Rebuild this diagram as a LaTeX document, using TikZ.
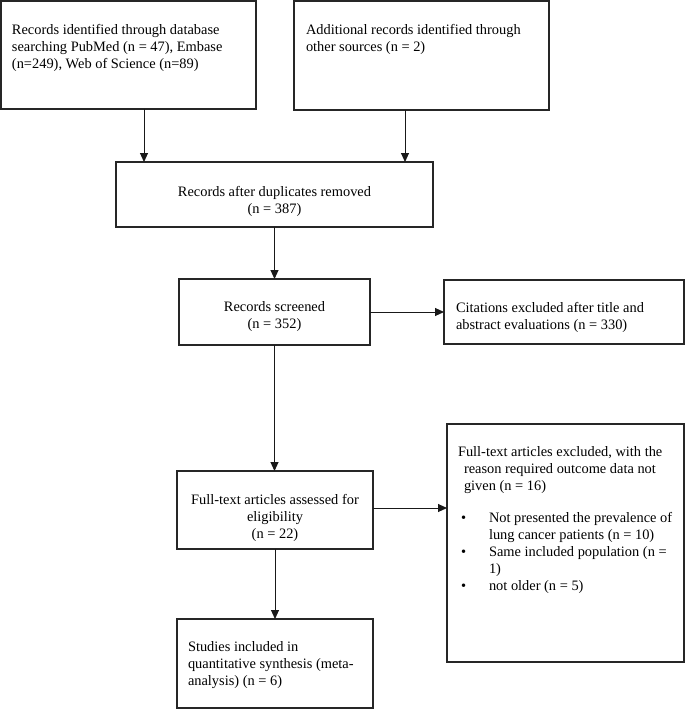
\documentclass[tikz,border=0pt]{standalone}
\usepackage{fontspec}
\setmainfont{Liberation Serif}
\usetikzlibrary{arrows.meta}
\begin{document}
\begin{tikzpicture}[x=1pt,y=-1pt,
  box/.style={draw=black!85, line width=1.2pt, inner sep=0pt, outer sep=0pt},
  txt/.style={inner sep=0pt, outer sep=0pt, font=\fontsize{14.4}{17}\selectfont},
  arr/.style={draw=black!90, line width=1pt, -{Triangle[length=9pt,width=8pt]}}]
\useasboundingbox (0,0) rectangle (685,709);
% boxes
\node[box, minimum width=255, minimum height=108] (b1) at (128.5,55) {};
\node[box, minimum width=255, minimum height=109] (b2) at (421.5,55.5) {};
\node[box, minimum width=317, minimum height=65] (b3) at (274.5,194.5) {};
\node[box, minimum width=191, minimum height=66] (b4) at (274.5,312) {};
\node[box, minimum width=240, minimum height=64] (cit) at (564,312) {};
\node[box, minimum width=196, minimum height=78] (b5) at (275,510) {};
\node[box, minimum width=237, minimum height=238] (exc) at (565.5,543) {};
\node[box, minimum width=196, minimum height=89] (st) at (275,663.5) {};
% texts
\node[txt, anchor=north west, align=left] (t1) at (12,24)
  {Records identified through database\\searching PubMed (n = 47), Embase\\(n=249), Web of Science (n=89)};
\node[txt, anchor=north west, align=left] (t2) at (306,24)
  {Additional records identified through\\other sources (n = 2)};
\node[txt, anchor=north, align=center] (t3) at (274.5,186)
  {Records after duplicates removed\\(n = 387)};
\node[txt, anchor=north, align=center] (t4) at (274.5,302)
  {Records screened\\(n = 352)};
\node[txt, anchor=north west, align=left] (tc) at (456,302)
  {Citations excluded after title and\\abstract evaluations (n = 330)};
\node[txt, anchor=north, align=center] (t5) at (275,494)
  {Full-text articles assessed for\\eligibility\\(n = 22)};
\node[txt, anchor=north west, align=left] (te) at (458,447)
  {Full-text articles excluded, with the\\\hspace*{6pt}reason required outcome data not\\\hspace*{6pt}given (n = 16)};
\node[txt, anchor=north west] (tb) at (461,511)
  {\begin{tabular}{@{}p{28pt}@{}l@{}}
   • & Not presented the prevalence of\\
     & lung cancer patients (n = 10)\\
   • & Same included population (n =\\
     & 1)\\
   • & not older (n = 5)
   \end{tabular}};
\node[txt, anchor=north west, align=left] (ts) at (188,641)
  {Studies included in\\quantitative synthesis (meta-\\analysis) (n = 6)};
% connectors
\draw[arr] ([xshift=15.5pt]b1.south) -- ([xshift=15.5pt]b1.south |- b3.north);
\draw[arr] ([xshift=-16.5pt]b2.south) -- ([xshift=-16.5pt]b2.south |- b3.north);
\draw[arr] (b3) -- (b4);
\draw[arr] (b4) -- (cit);
\draw[arr] (b4.south) -- (b4.south |- b5.north);
\draw[arr] ([yshift=2pt]b5.east) -- ([yshift=2pt]b5.east -| exc.west);
\draw[arr] (b5) -- (st);
\end{tikzpicture}
\end{document}
